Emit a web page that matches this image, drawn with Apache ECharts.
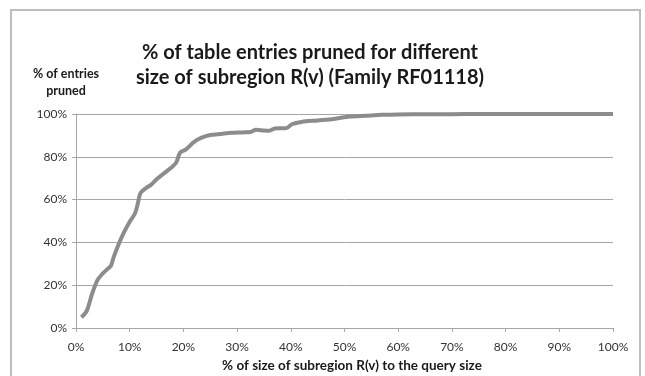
<!DOCTYPE html>
<html>
<head>
<meta charset="utf-8">
<script src="https://cdn.jsdelivr.net/npm/echarts@6/dist/echarts.min.js"></script>
<style>
  html, body { margin: 0; padding: 0; background: #fff; }
  #chart { width: 645px; height: 376px; }
</style>
</head>
<body>
<div id="chart"></div>
<script>
// values (x = % size of subregion, y = % entries pruned)
const sizePct = [1, 2, 3, 4, 5, 6, 6.5, 7, 8, 9, 10, 11, 11.5, 12, 13, 14, 15, 16.5, 18, 18.7,
  19.4, 20.5, 22, 23.4, 25, 27, 29, 31, 32.5, 33.5, 35, 36, 37, 38, 39.2, 40.2, 42, 45, 48, 51,
  54, 57, 60, 65, 70, 75, 80, 85, 90, 95, 100];
const prunedPct = [5, 8, 16, 22.4, 25.5, 27.9, 29, 33, 39.5, 45, 49.7, 53.6, 58, 63, 65.3, 67, 69.5, 72.5, 75.5, 77.5,
  82, 83.5, 87, 89, 90.2, 90.7, 91.2, 91.4, 91.6, 92.6, 92.3, 92.2, 93.2, 93.3, 93.4, 95.2, 96.3, 97, 97.7, 98.8,
  99.2, 99.6, 99.8, 99.9, 99.9, 100, 100, 100, 100, 100, 100];

const titleLines = '% of table entries pruned for different\nsize of subregion R(v) (Family RF01118)';
const yName = '% of entries\npruned';
const xName = '% of size of subregion R(v) to the query size';

const points = sizePct.map((x, i) => [x, prunedPct[i]]);

const chart = echarts.init(document.getElementById('chart'));
const font = 'Lato, "Open Sans", sans-serif';
const gray = '#a6a6a6';

const option = {
  animation: false,
  backgroundColor: '#fff',
  title: [
    {
      text: titleLines,
      left: 305, top: 35, textAlign: 'center',
      textStyle: { fontFamily: font, fontSize: 20, fontWeight: 'bold', color: '#1a1a1a', lineHeight: 25 }
    },
    {
      text: yName,
      left: 61, top: 60, textAlign: 'center',
      textStyle: { fontFamily: font, fontSize: 12.5, fontWeight: 'bold', color: '#1a1a1a', lineHeight: 17, align: 'center' }
    },
    {
      text: xName,
      left: 347, top: 354, textAlign: 'center',
      textStyle: { fontFamily: font, fontSize: 13.5, fontWeight: 'bold', color: '#1a1a1a' }
    }
  ],
  graphic: [{
    type: 'rect',
    shape: { x: 11, y: 10, width: 629, height: 380 },
    style: { fill: 'none', stroke: '#bdbdbd', lineWidth: 2 },
    silent: true
  }],
  grid: { left: 76, right: 32, top: 114, bottom: 48 },
  xAxis: {
    type: 'value', min: 0, max: 100, interval: 10,
    axisLine: { show: true, lineStyle: { color: gray } },
    axisTick: { show: true, length: 4, lineStyle: { color: gray } },
    splitLine: { show: false },
    axisLabel: { formatter: '{value}%', color: '#333', fontFamily: font, fontSize: 12, margin: 13 }
  },
  yAxis: {
    type: 'value', min: 0, max: 100, interval: 20,
    axisLine: { show: true, lineStyle: { color: gray } },
    axisTick: { show: true, length: 4, lineStyle: { color: gray } },
    splitLine: { show: true, lineStyle: { color: gray, width: 1 } },
    axisLabel: { formatter: '{value}%', color: '#333', fontFamily: font, fontSize: 12, margin: 9 }
  },
  series: [{
    type: 'line',
    data: points,
    showSymbol: false,
    smooth: 0.3,
    lineStyle: { color: '#8c8c8c', width: 4 }
  }]
};

chart.setOption(option);
</script>
</body>
</html>
